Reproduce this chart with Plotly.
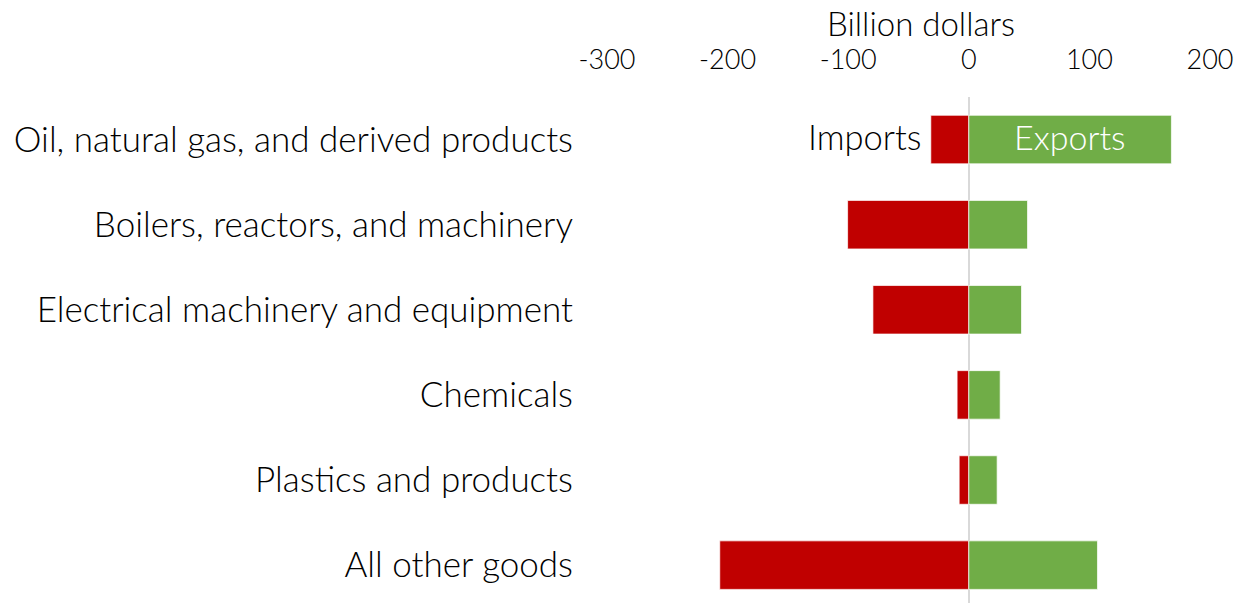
import plotly.graph_objects as go

categories = [
    "Oil, natural gas, and derived products",
    "Boilers, reactors, and machinery",
    "Electrical machinery and equipment",
    "Chemicals",
    "Plastics and products",
    "All other goods",
]
imports = [-31.5, -100.5, -79.5, -9.7, -8.0, -206.5]
exports = [168, 48.7, 43.7, 26, 23.5, 106.7]
tick_vals = [-300, -200, -100, 0, 100, 200]
tick_text = ["-300", "-200", "-100", "0", "100", "200"]

RED = "#C00000"
GREEN = "#70AD47"
FONT = "Lato"
W = 300

fig = go.Figure()
fig.add_trace(go.Bar(
    y=categories, x=imports, orientation="h", name="Imports",
    marker=dict(color=RED, line=dict(color="rgba(255,255,255,0.7)", width=1)),
))
fig.add_trace(go.Bar(
    y=categories, x=exports, orientation="h", name="Exports",
    marker=dict(color=GREEN, line=dict(color="rgba(255,255,255,0.7)", width=1)),
))

fig.add_annotation(
    x=imports[0], y=categories[0], xref="x", yref="y",
    text="Imports", showarrow=False, xanchor="right", xshift=-8, yshift=3,
    font=dict(family=FONT, size=34.5, color="black", weight=W),
)
fig.add_annotation(
    x=exports[0] / 2, y=categories[0], xref="x", yref="y",
    text="Exports", showarrow=False, xanchor="center", yshift=3,
    font=dict(family=FONT, size=34, color="white", weight=W),
)
fig.add_annotation(
    x=0.52, y=1, xref="paper", yref="paper", yanchor="middle", yshift=74,
    text="Billion dollars", showarrow=False,
    font=dict(family=FONT, size=33, color="black", weight=W),
)

fig.update_layout(
    width=1251, height=603,
    margin=dict(l=607, r=41, t=97, b=0),
    paper_bgcolor="white", plot_bgcolor="white",
    barmode="relative", bargap=0.43,
    showlegend=False,
    font=dict(family=FONT, color="black", weight=W),
    xaxis=dict(
        side="top", range=[-300, 200], tickvals=tick_vals, ticktext=tick_text,
        showgrid=False, zeroline=True, zerolinecolor="#D9D9D9", zerolinewidth=2,
        tickfont=dict(family=FONT, size=27, color="black", weight=W), ticks="",
        showline=False, fixedrange=True, ticklabelstandoff=22,
    ),
    yaxis=dict(
        categoryorder="array", categoryarray=categories,
        range=[5.445, -0.5], showgrid=False, showline=False, ticks="",
        tickfont=dict(family=FONT, size=35, color="black", weight=W),
        ticklabelstandoff=33,
    ),
)

fig.write_html("out.html", config={"displayModeBar": False},
               post_script="document.body.style.margin='0';")
